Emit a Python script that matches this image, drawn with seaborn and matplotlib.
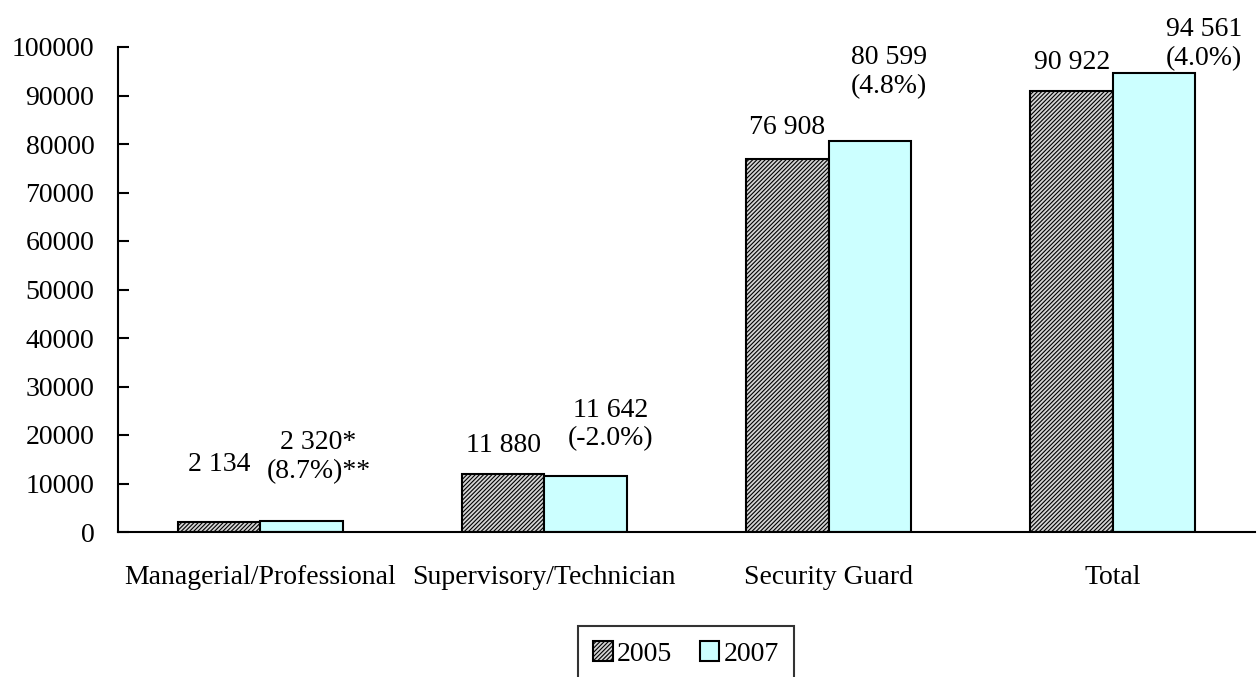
import matplotlib
matplotlib.use("Agg")
import matplotlib.pyplot as plt
import seaborn as sns
import pandas as pd

categories = ["Managerial/Professional", "Supervisory/Technician", "Security Guard", "Total"]
years = ["2005", "2007"]
values_2005 = [2134, 11880, 76908, 90922]
values_2007 = [2320, 11642, 80599, 94561]
change_2007 = ["(8.7%)", "(-2.0%)", "(4.8%)", "(4.0%)"]
value_marks = ["*", "", "", ""]
change_marks = ["**", "", "", ""]
y_ticks = list(range(0, 100001, 10000))

df = pd.DataFrame({
    "category": categories * 2,
    "year": [years[0]] * 4 + [years[1]] * 4,
    "value": values_2005 + values_2007,
})

sns.set_theme(style="white")
plt.rcParams["font.family"] = ["Liberation Serif", "DejaVu Serif"]
plt.rcParams["text.color"] = "black"
plt.rcParams["hatch.linewidth"] = 0.8
plt.rcParams["hatch.color"] = "black"

FS = 20

fig = plt.figure(figsize=(12.59, 6.77), dpi=100)
ax = fig.add_axes([118 / 1259, 1 - 532 / 677, (1255 - 118) / 1259, (532 - 47) / 677])

sns.barplot(data=df, x="category", y="value", hue="year", order=categories,
            hue_order=years, palette=["#d4d4d4", "#CCFFFF"], width=0.58,
            edgecolor="black", linewidth=1.5, saturation=1, ax=ax, legend=False)

for patch in ax.containers[0]:
    patch.set_hatch("////////")
    patch.set_edgecolor("black")

ax.set_xlim(-0.5, 3.5)
ax.set_ylim(0, 100000)
ax.set_yticks(y_ticks)
ax.set_yticklabels([str(t) for t in y_ticks], fontsize=FS)
ax.set_xlabel("")
ax.set_ylabel("")
ax.set_xticks(range(len(categories)))
ax.set_xticklabels(categories, fontsize=FS)
ax.set_xticks([i + 0.5 for i in range(len(categories))], minor=True)
ax.tick_params(axis="x", which="major", length=0, pad=24, colors="black")
ax.tick_params(axis="x", which="minor", direction="in", length=9, width=1.5, color="black")
ax.tick_params(axis="y", direction="in", length=8, width=1.5, color="black", pad=17,
               left=True, labelcolor="black")
for side in ["top", "right"]:
    ax.spines[side].set_visible(False)
for side in ["left", "bottom"]:
    ax.spines[side].set_color("black")
    ax.spines[side].set_linewidth(1.5)
ax.grid(False)


def fmt(v):
    return f"{v:,}".replace(",", " ")


# label offsets in pixels (dx, dy) from each bar's top centre
offs_2005 = [(0, 57), (0, 29), (0, 31), (0, 29)]
offs_2007 = [(17, 64), (25, 51), (19, 69), (50, 29)]

for bar, v, (dx, dy) in zip(ax.containers[0], values_2005, offs_2005):
    ax.annotate(fmt(v), (bar.get_x() + bar.get_width() / 2, bar.get_height()),
                xytext=(dx, dy), textcoords="offset pixels", ha="center", va="center",
                fontsize=FS, color="black", annotation_clip=False)

for bar, v, ch, m1, m2, (dx, dy) in zip(ax.containers[1], values_2007, change_2007,
                                        value_marks, change_marks, offs_2007):
    ax.annotate(f"{fmt(v)}{m1}\n{ch}{m2}", (bar.get_x() + bar.get_width() / 2, bar.get_height()),
                xytext=(dx, dy), textcoords="offset pixels", ha="center", va="center",
                fontsize=FS, color="black", linespacing=1.2, annotation_clip=False)

leg = fig.legend(handles=list(ax.containers[0][:1]) + list(ax.containers[1][:1]),
                 labels=years, loc="upper center",
                 bbox_to_anchor=(686 / 1259, 1 - 626 / 677), ncol=2, fontsize=FS,
                 frameon=True, fancybox=False, handlelength=0.7, handleheight=0.7,
                 handletextpad=0.15, columnspacing=1.0, borderpad=0.55, borderaxespad=0)
leg.get_frame().set_edgecolor("black")
leg.get_frame().set_linewidth(1.5)
for t in leg.get_texts():
    t.set_color("black")

fig.savefig("out.png", dpi=100)
